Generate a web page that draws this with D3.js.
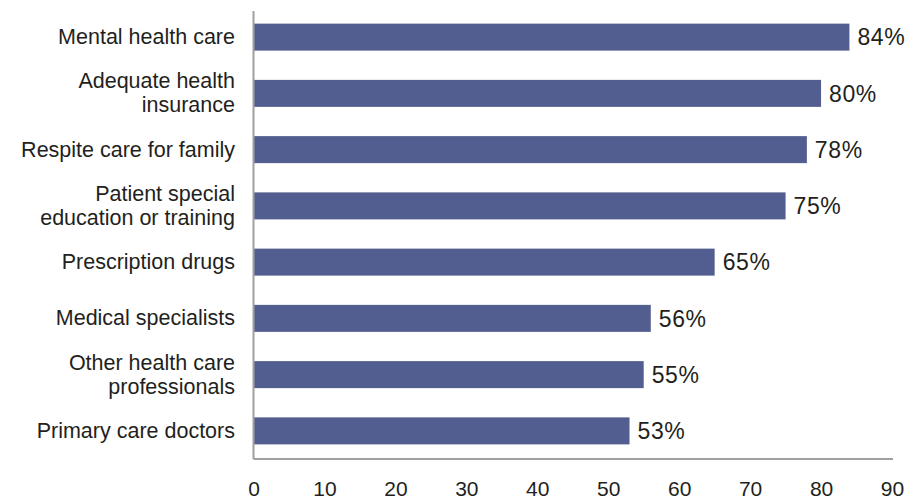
<!DOCTYPE html>
<html>
<head>
<meta charset="utf-8">
<script src="https://cdn.jsdelivr.net/npm/d3@7"></script>
<style>
  body { margin: 0; background: #fff; font-family: "Liberation Sans", Arial, Helvetica, sans-serif; }
  .cat { font-size: 21.5px; fill: #231f20; }
  .val { font-size: 23px; fill: #231f20; letter-spacing: 0.6px; }
  .tick text { font-size: 21px; fill: #231f20; }
</style>
</head>
<body>
<script>
var categories = [
  ["Mental health care"],
  ["Adequate health", "insurance"],
  ["Respite care for family"],
  ["Patient special", "education or training"],
  ["Prescription drugs"],
  ["Medical specialists"],
  ["Other health care", "professionals"],
  ["Primary care doctors"]
];
var values = [84, 80, 78, 75, 65, 56, 55, 53];
var tickValues = [0, 10, 20, 30, 40, 50, 60, 70, 80, 90];

var width = 911, height = 500;
var barColor = "#525e8f", axisColor = "#a0a0a0";

var svg = d3.select("body").append("svg")
    .attr("width", width)
    .attr("height", height);

var x = d3.scaleLinear()
    .domain([0, 90])
    .range([253.5, 892]);

var y = d3.scaleBand()
    .domain(d3.range(values.length))
    .range([9, 459])
    .paddingInner(0.52)
    .paddingOuter(0.26);

// bars
svg.selectAll(".bar")
    .data(values)
  .enter().append("rect")
    .attr("class", "bar")
    .attr("x", x(0))
    .attr("y", function(d, i){ return y(i); })
    .attr("width", function(d){ return x(d) - x(0); })
    .attr("height", y.bandwidth())
    .style("fill", barColor);

// value labels
svg.selectAll(".val")
    .data(values)
  .enter().append("text")
    .attr("class", "val")
    .attr("x", function(d){ return x(d) + 8; })
    .attr("y", function(d, i){ return y(i) + y.bandwidth()/2; })
    .attr("dy", "0.36em")
    .text(function(d){ return d + "%"; });

// category labels
var cats = svg.selectAll(".cat")
    .data(categories)
  .enter().append("text")
    .attr("class", "cat")
    .attr("text-anchor", "end")
    .attr("transform", function(d, i){
      return "translate(235," + (y(i) + y.bandwidth()/2) + ")";
    });
cats.selectAll("tspan")
    .data(function(d){ return d; })
  .enter().append("tspan")
    .attr("x", 0)
    .attr("y", function(d, j, nodes){
      var n = nodes.length;
      return (j - (n - 1)/2) * 24;
    })
    .attr("dy", "0.32em")
    .text(String);

// x axis
var xAxis = svg.append("g")
    .attr("transform", "translate(0,459)")
    .call(d3.axisBottom(x).tickValues(tickValues).tickSize(0).tickPadding(22));
xAxis.select(".domain").attr("stroke", axisColor).attr("stroke-width", 2)
    .attr("d", "M" + x(0) + ",0H893");
xAxis.selectAll(".tick text").attr("font-family", null).attr("font-size", null);

// y axis line
svg.append("line")
    .attr("x1", x(0)).attr("x2", x(0))
    .attr("y1", 11).attr("y2", 459)
    .attr("stroke", axisColor)
    .attr("stroke-width", 2);
</script>
</body>
</html>
